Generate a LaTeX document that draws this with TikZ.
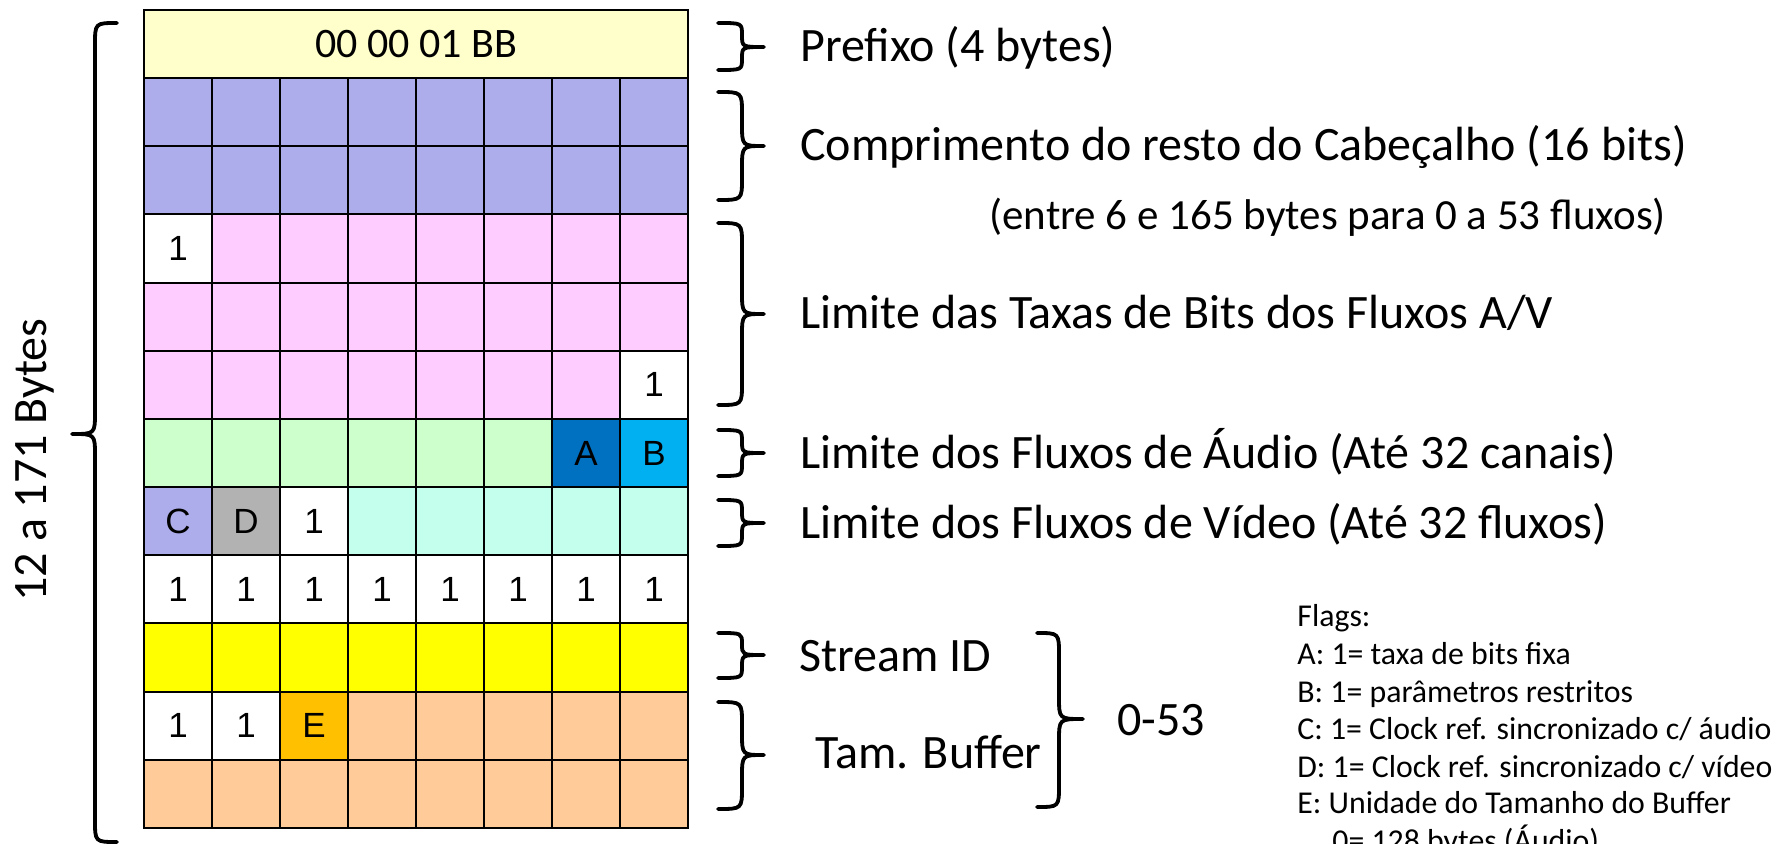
\documentclass[tikz,border=0pt]{standalone}
\usepackage{fontspec}
\setmainfont{Carlito}
\newfontfamily\arialf{Liberation Sans}
\definecolor{prefc}{HTML}{FFFFCC}
\definecolor{lav}{HTML}{ADADEB}
\definecolor{pinkc}{HTML}{FFCCFF}
\definecolor{lgreen}{HTML}{CCFFCC}
\definecolor{dblue}{HTML}{0070C0}
\definecolor{lblue}{HTML}{00B0F0}
\definecolor{grayc}{HTML}{B2B2B2}
\definecolor{mint}{HTML}{C4FFEE}
\definecolor{yel}{HTML}{FFFF00}
\definecolor{peach}{HTML}{FFCC99}
\definecolor{orng}{HTML}{FFC000}
\tikzset{
  cell/.style={draw=black, line width=1pt, minimum width=34pt, minimum height=34.075pt,
    inner sep=0pt, font=\arialf\fontsize{17.5}{20}\selectfont},
  brc/.style={line width=1.9pt, line cap=round, line join=round},
  lbl/.style={anchor=base west, inner sep=0pt, font=\fontsize{24}{28}\selectfont},
  flg/.style={anchor=base west, inner sep=0pt, font=\fontsize{15.9}{19}\selectfont}
}
\newcommand\cellrow[2]{\foreach \f/\t [count=\i from 0] in {#2}{%
  \node[cell,fill=\f] (r#1c\i) at ({178+68*\i},{44.075+68.15*#1}) {\t};}}
\newcommand\mybrace[6]{%
  \pgfmathsetmacro\ha{min(22,(#5-#4)/2)}%
  \pgfmathsetmacro\hb{min(22,(#6-#5)/2)}%
  \draw[brc] (#1,#4) .. controls (#2,#4) .. (#2,#4+\ha) -- (#2,#5-\ha)
    .. controls (#2,#5) .. (#3,#5) .. controls (#2,#5) .. (#2,#5+\hb)
    -- (#2,#6-\hb) .. controls (#2,#6) .. (#1,#6);}
\begin{document}
\begin{tikzpicture}[x=0.5pt,y=-0.5pt]
\useasboundingbox (0,0) rectangle (1787,844);
\fill[white] (0,0) rectangle (1787,844);
% prefix
\node[cell, fill=prefc, minimum width=272pt, font=\fontsize{21}{24}\selectfont] (pref) at (416,44.075) {00 00 01 BB};
\cellrow{1}{lav/{},lav/{},lav/{},lav/{},lav/{},lav/{},lav/{},lav/{}}
\cellrow{2}{lav/{},lav/{},lav/{},lav/{},lav/{},lav/{},lav/{},lav/{}}
\cellrow{3}{white/1,pinkc/{},pinkc/{},pinkc/{},pinkc/{},pinkc/{},pinkc/{},pinkc/{}}
\cellrow{4}{pinkc/{},pinkc/{},pinkc/{},pinkc/{},pinkc/{},pinkc/{},pinkc/{},pinkc/{}}
\cellrow{5}{pinkc/{},pinkc/{},pinkc/{},pinkc/{},pinkc/{},pinkc/{},pinkc/{},white/1}
\cellrow{6}{lgreen/{},lgreen/{},lgreen/{},lgreen/{},lgreen/{},lgreen/{},dblue/A,lblue/B}
\cellrow{7}{lav/C,grayc/D,white/1,mint/{},mint/{},mint/{},mint/{},mint/{}}
\cellrow{8}{white/1,white/1,white/1,white/1,white/1,white/1,white/1,white/1}
\cellrow{9}{yel/{},yel/{},yel/{},yel/{},yel/{},yel/{},yel/{},yel/{}}
\cellrow{10}{white/1,white/1,orng/E,peach/{},peach/{},peach/{},peach/{},peach/{}}
\cellrow{11}{peach/{},peach/{},peach/{},peach/{},peach/{},peach/{},peach/{},peach/{}}
% left brace and label
\mybrace{117}{95}{72}{23}{434}{842}
\node[rotate=90, inner sep=0pt, font=\fontsize{24}{28}\selectfont] (total) at (35,460) {12 a 171 Bytes};
% right braces
\mybrace{718}{742}{764}{23}{47}{70}
\mybrace{718}{742}{764}{92}{146}{200}
\mybrace{718}{742}{764}{223}{314}{405}
\mybrace{718}{742}{764}{430}{453}{476}
\mybrace{718}{742}{764}{500}{523}{546}
\mybrace{718}{742}{764}{633}{655}{678}
\mybrace{718}{742}{764}{702}{755}{809}
\mybrace{1037}{1059}{1083}{633}{719}{807}
% labels
\node[lbl] (lpref) at (800,62) {Prefixo (4 bytes)};
\node[lbl] (lcomp) at (800,161) {Comprimento do resto do Cabeçalho (16 bits)};
\node[lbl, font=\fontsize{21.5}{25}\selectfont] (lentre) at (989,230) {(entre 6 e 165 bytes para 0 a 53 fluxos)};
\node[lbl] (ltax) at (800,329) {Limite das Taxas de Bits dos Fluxos A/V};
\node[lbl] (laud) at (800,468) {Limite dos Fluxos de Áudio (Até 32 canais)};
\node[lbl] (lvid) at (800,538) {Limite dos Fluxos de Vídeo (Até 32 fluxos)};
\node[lbl] (lsid) at (799,671) {Stream ID};
\node[lbl] (ltam) at (815,768) {Tam. Buffer};
\node[lbl] (lnum) at (1117,735) {0-53};
% flags
\node[flg] (f0) at (1297,626) {Flags:};
\node[flg] (f1) at (1297,664.5) {A: 1= taxa de bits fixa};
\node[flg] (f2) at (1297,702) {B: 1= parâmetros restritos};
\node[flg] (f3) at (1297,739.5) {C: 1= Clock ref. sincronizado c/ áudio};
\node[flg] (f4) at (1297,777) {D: 1= Clock ref. sincronizado c/ vídeo};
\node[flg] (f5) at (1297,813.5) {E: Unidade do Tamanho do Buffer};
\node[flg] (f6) at (1332,851) {0= 128 bytes (Áudio)};
\end{tikzpicture}
\end{document}
